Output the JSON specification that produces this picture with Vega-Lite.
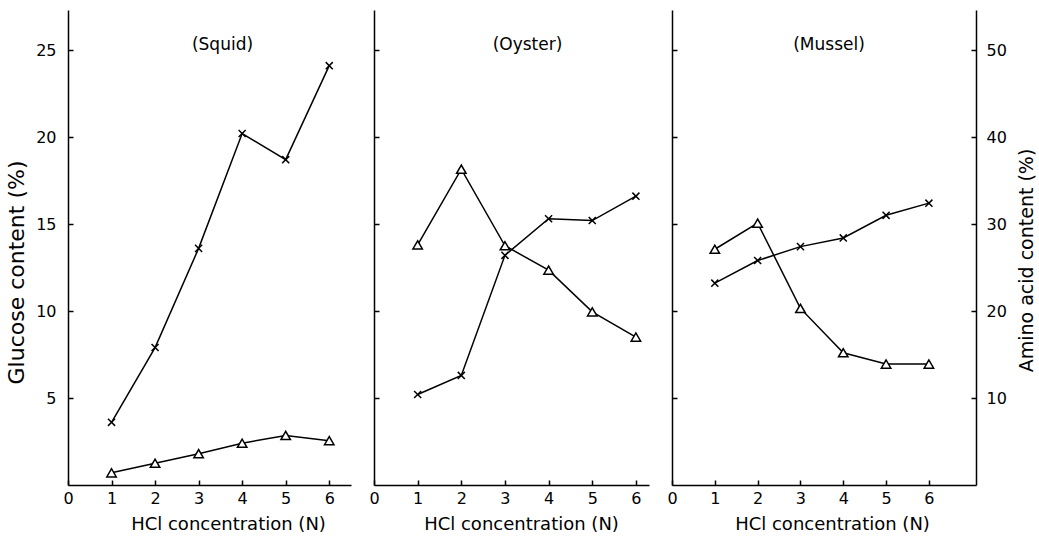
{
  "$schema": "https://vega.github.io/schema/vega-lite/v6.json",
  "background": "white",
  "padding": {"left": 5, "top": 10, "right": 5, "bottom": 5},
  "config": {
    "view": {"stroke": null},
    "font": "DejaVu Sans",
    "title": {"font": "DejaVu Sans", "fontSize": 17, "fontWeight": "normal", "color": "black", "frame": "group", "anchor": "middle", "offset": -44},
    "axis": {
      "grid": false,
      "domainColor": "black",
      "domainWidth": 1.5,
      "tickColor": "black",
      "tickWidth": 1.5,
      "tickSize": -5,
      "labelColor": "black",
      "labelFont": "DejaVu Sans",
      "labelFontSize": 16,
      "labelFlush": false,
      "titleColor": "black",
      "titleFont": "DejaVu Sans",
      "titleFontWeight": "normal",
      "titleFontSize": 18
    },
    "axisX": {"labelPadding": 10, "titlePadding": 9},
    "axisY": {"labelPadding": 17}
  },
  "datasets": {
    "glucose": [
      {"species": "Squid", "hcl": 1, "glucose": 3.6},
      {"species": "Squid", "hcl": 2, "glucose": 7.9},
      {"species": "Squid", "hcl": 3, "glucose": 13.6},
      {"species": "Squid", "hcl": 4, "glucose": 20.2},
      {"species": "Squid", "hcl": 5, "glucose": 18.7},
      {"species": "Squid", "hcl": 6, "glucose": 24.1},
      {"species": "Oyster", "hcl": 1, "glucose": 5.2},
      {"species": "Oyster", "hcl": 2, "glucose": 6.3},
      {"species": "Oyster", "hcl": 3, "glucose": 13.2},
      {"species": "Oyster", "hcl": 4, "glucose": 15.3},
      {"species": "Oyster", "hcl": 5, "glucose": 15.2},
      {"species": "Oyster", "hcl": 6, "glucose": 16.6},
      {"species": "Mussel", "hcl": 1, "glucose": 11.6},
      {"species": "Mussel", "hcl": 2, "glucose": 12.9},
      {"species": "Mussel", "hcl": 3, "glucose": 13.7},
      {"species": "Mussel", "hcl": 4, "glucose": 14.2},
      {"species": "Mussel", "hcl": 5, "glucose": 15.5},
      {"species": "Mussel", "hcl": 6, "glucose": 16.2}
    ],
    "amino": [
      {"species": "Squid", "hcl": 1, "amino": 1.4},
      {"species": "Squid", "hcl": 2, "amino": 2.5},
      {"species": "Squid", "hcl": 3, "amino": 3.6},
      {"species": "Squid", "hcl": 4, "amino": 4.8},
      {"species": "Squid", "hcl": 5, "amino": 5.7},
      {"species": "Squid", "hcl": 6, "amino": 5.1},
      {"species": "Oyster", "hcl": 1, "amino": 27.6},
      {"species": "Oyster", "hcl": 2, "amino": 36.3},
      {"species": "Oyster", "hcl": 3, "amino": 27.5},
      {"species": "Oyster", "hcl": 4, "amino": 24.7},
      {"species": "Oyster", "hcl": 5, "amino": 19.9},
      {"species": "Oyster", "hcl": 6, "amino": 17.0},
      {"species": "Mussel", "hcl": 1, "amino": 27.1},
      {"species": "Mussel", "hcl": 2, "amino": 30.1},
      {"species": "Mussel", "hcl": 3, "amino": 20.3},
      {"species": "Mussel", "hcl": 4, "amino": 15.2},
      {"species": "Mussel", "hcl": 5, "amino": 13.9},
      {"species": "Mussel", "hcl": 6, "amino": 13.9}
    ]
  },
  "spacing": 17,
  "hconcat": [
    {
      "title": {"text": "(Squid)", "dx": 13},
      "width": 283,
      "height": 475,
      "encoding": {
        "x": {"field": "hcl", "type": "quantitative", "scale": {"domain": [0, 6.5], "nice": false},
              "axis": {"values": [0, 1, 2, 3, 4, 5, 6], "title": "HCl concentration (N)", "titleX": 160}}
      },
      "layer": [
        {
          "data": {"name": "glucose"},
          "transform": [{"filter": "datum.species === 'Squid'"}],
          "encoding": {
            "y": {"field": "glucose", "type": "quantitative", "scale": {"domain": [0, 27.3], "nice": false},
                  "axis": {"values": [5, 10, 15, 20, 25], "title": "Glucose content (%)", "titleFontSize": 22, "titleY": 262, "titlePadding": 7}}
          },
          "layer": [
            {"mark": {"type": "line", "color": "black", "strokeWidth": 1.5}},
            {"mark": {"type": "point", "shape": "M-1,-1L1,1M-1,1L1,-1", "size": 50, "filled": false, "stroke": "black", "strokeWidth": 1.5, "opacity": 1}}
          ]
        },
        {
          "data": {"name": "amino"},
          "transform": [{"filter": "datum.species === 'Squid'"}],
          "encoding": {
            "y": {"field": "amino", "type": "quantitative", "scale": {"domain": [0, 54.6], "nice": false}, "axis": null}
          },
          "layer": [
            {"mark": {"type": "line", "color": "black", "strokeWidth": 1.5}},
            {"mark": {"type": "point", "shape": "triangle-up", "size": 90, "filled": true, "fill": "white", "stroke": "black", "strokeWidth": 1.5, "opacity": 1}}
          ]
        }
      ],
      "resolve": {"scale": {"y": "independent"}}
    },
    {
      "title": {"text": "(Oyster)", "dx": 16},
      "width": 275,
      "height": 475,
      "encoding": {
        "x": {"field": "hcl", "type": "quantitative", "scale": {"domain": [0, 6.3], "nice": false},
              "axis": {"values": [0, 1, 2, 3, 4, 5, 6], "title": "HCl concentration (N)", "titleX": 147}}
      },
      "layer": [
        {
          "data": {"name": "glucose"},
          "transform": [{"filter": "datum.species === 'Oyster'"}],
          "encoding": {
            "y": {"field": "glucose", "type": "quantitative", "scale": {"domain": [0, 27.3], "nice": false},
                  "axis": {"values": [5, 10, 15, 20, 25], "labels": false, "title": null}}
          },
          "layer": [
            {"mark": {"type": "line", "color": "black", "strokeWidth": 1.5}},
            {"mark": {"type": "point", "shape": "M-1,-1L1,1M-1,1L1,-1", "size": 50, "filled": false, "stroke": "black", "strokeWidth": 1.5, "opacity": 1}}
          ]
        },
        {
          "data": {"name": "amino"},
          "transform": [{"filter": "datum.species === 'Oyster'"}],
          "encoding": {
            "y": {"field": "amino", "type": "quantitative", "scale": {"domain": [0, 54.6], "nice": false}, "axis": null}
          },
          "layer": [
            {"mark": {"type": "line", "color": "black", "strokeWidth": 1.5}},
            {"mark": {"type": "point", "shape": "triangle-up", "size": 90, "filled": true, "fill": "white", "stroke": "black", "strokeWidth": 1.5, "opacity": 1}}
          ]
        }
      ],
      "resolve": {"scale": {"y": "independent"}}
    },
    {
      "title": {"text": "(Mussel)", "dx": 5},
      "width": 304,
      "height": 475,
      "encoding": {
        "x": {"field": "hcl", "type": "quantitative", "scale": {"domain": [0, 7.1], "nice": false},
              "axis": {"values": [0, 1, 2, 3, 4, 5, 6], "title": "HCl concentration (N)", "titleX": 160}}
      },
      "layer": [
        {
          "data": {"name": "glucose"},
          "transform": [{"filter": "datum.species === 'Mussel'"}],
          "encoding": {
            "y": {"field": "glucose", "type": "quantitative", "scale": {"domain": [0, 27.3], "nice": false},
                  "axis": {"values": [5, 10, 15, 20, 25], "labels": false, "title": null}}
          },
          "layer": [
            {"mark": {"type": "line", "color": "black", "strokeWidth": 1.5}},
            {"mark": {"type": "point", "shape": "M-1,-1L1,1M-1,1L1,-1", "size": 50, "filled": false, "stroke": "black", "strokeWidth": 1.5, "opacity": 1}}
          ]
        },
        {
          "data": {"name": "amino"},
          "transform": [{"filter": "datum.species === 'Mussel'"}],
          "encoding": {
            "y": {"field": "amino", "type": "quantitative", "scale": {"domain": [0, 54.6], "nice": false},
                  "axis": {"orient": "right", "values": [10, 20, 30, 40, 50], "title": "Amino acid content (%)", "titleAngle": 270, "titleFontSize": 19, "titleY": 250, "labelPadding": 15, "titlePadding": 30}}
          },
          "layer": [
            {"mark": {"type": "line", "color": "black", "strokeWidth": 1.5}},
            {"mark": {"type": "point", "shape": "triangle-up", "size": 90, "filled": true, "fill": "white", "stroke": "black", "strokeWidth": 1.5, "opacity": 1}}
          ]
        }
      ],
      "resolve": {"scale": {"y": "independent"}}
    }
  ]
}
